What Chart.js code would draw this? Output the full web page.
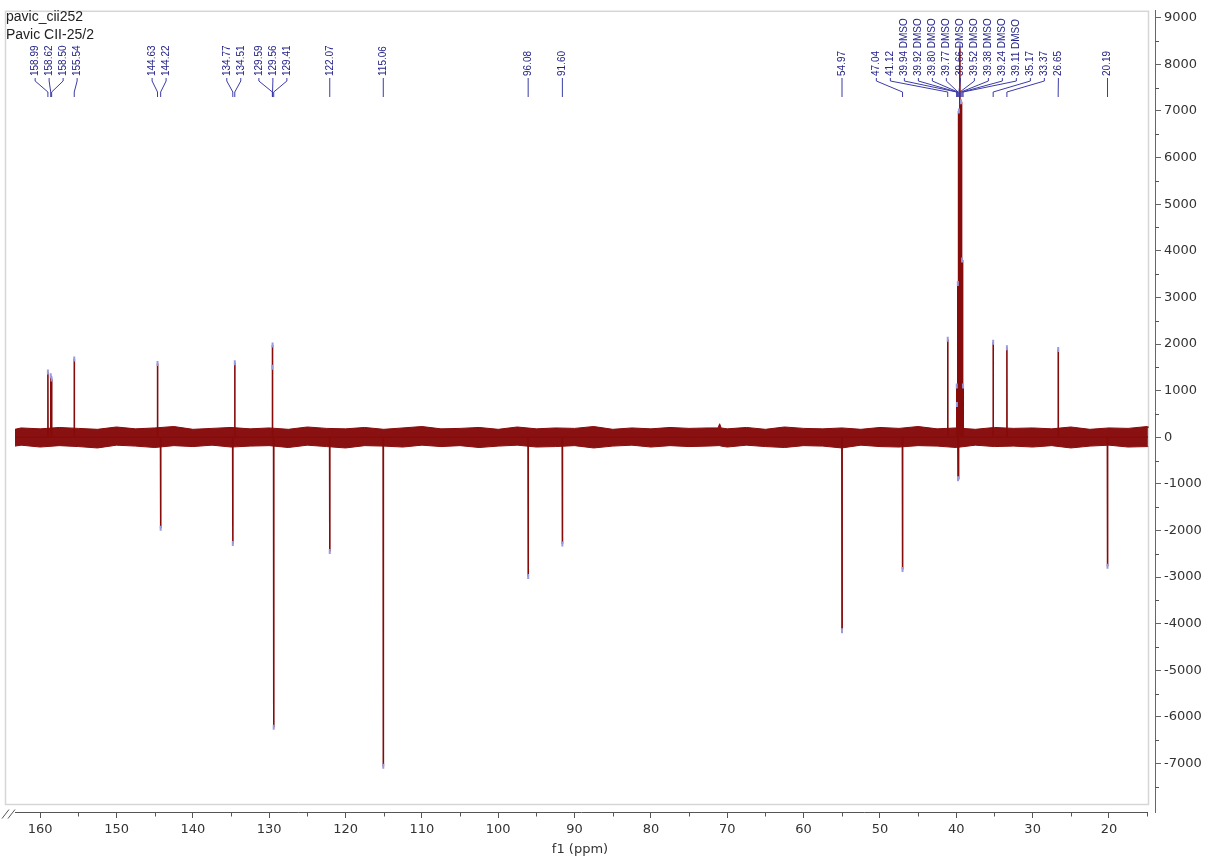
<!DOCTYPE html>
<html>
<head>
<meta charset="utf-8">
<script src="https://cdn.jsdelivr.net/npm/chart.js@4.4.1/dist/chart.umd.min.js"></script>
<style>
  html, body { margin: 0; padding: 0; background: #fff; }
  #wrap { width: 1208px; height: 859px; position: relative; }
</style>
</head>
<body>
<div id="wrap"><canvas id="spec"></canvas></div>
<script>
// spectrum header
const headerLines = ['pavic_cii252', 'Pavic CII-25/2'];

// picked peaks (ppm) and their intensities
const peakPpm = [158.99, 158.62, 158.50, 155.54, 144.63, 144.22, 134.77, 134.51, 129.59, 129.56, 129.41,
  122.07, 115.06, 96.08, 91.60, 54.97, 47.04, 41.12,
  39.94, 39.92, 39.80, 39.77, 39.66, 39.52, 39.38, 39.24, 39.11,
  35.17, 33.37, 26.65, 20.19];
const peakHeight = [1400, 1320, 1250, 1680, 1580, -1950, -2280, 1600, 1500, 1980, -6220,
  -2450, -7060, -2990, -2290, -4150, -2840, 2100,
  1100, 700, 3300, -890, 7000, 8400, 7200, 3800, 1100,
  2040, 1920, 1880, -2770];
const dmsoPpm = [39.94, 39.92, 39.80, 39.77, 39.66, 39.52, 39.38, 39.24, 39.11];

// baseline noise envelope (upper / lower edge of the noise band)
const noisePpm = [163.3, 162.5, 160, 157.5, 155, 152.5, 150, 147.5, 145, 142.5, 140, 137.5, 135, 132.5, 130,
  127.5, 125, 122.5, 120, 117.5, 115, 112.5, 110, 107.5, 105, 102.5, 100, 97.5, 95, 92.5, 90, 87.5, 85,
  82.5, 80, 77.5, 75, 72.5, 71.2, 71, 70.8, 70, 67.5, 65, 62.5, 60, 57.5, 55, 52.5, 50, 47.5, 45, 42.5,
  40, 37.5, 35, 32.5, 30, 27.5, 25, 22.5, 20, 17.5, 15, 14.9];
const noiseHigh = [170, 200, 180, 210, 190, 170, 220, 180, 200, 230,
  170, 190, 210, 180, 200, 170, 220, 190, 180, 210,
  170, 200, 230, 180, 190, 210, 170, 220, 180, 200,
  190, 230, 170, 200, 180, 210, 190, 200, 200, 290,
  200, 180, 210, 170, 220, 190, 180, 200, 170, 210,
  190, 230, 180, 200, 170, 210, 190, 200, 180, 220,
  170, 200, 190, 230, 200];
const noiseLow = [-190, -170, -210, -180, -200, -230, -170, -190, -220, -180,
  -200, -170, -210, -190, -180, -220, -170, -200, -230, -180,
  -190, -210, -170, -200, -180, -220, -190, -170, -210, -200,
  -180, -230, -190, -170, -210, -180, -200, -190, -180, -180,
  -190, -210, -170, -200, -220, -180, -190, -230, -170, -200,
  -210, -180, -190, -220, -170, -200, -190, -210, -180, -230,
  -190, -170, -210, -200, -190];

// axes
const xMax = 164.61;
const xMin = 13.97;
const yMax = 9149;
const yMin = -8040;
const xTicks = [160, 150, 140, 130, 120, 110, 100, 90, 80, 70, 60, 50, 40, 30, 20];
const xMinorTicks = [155, 145, 135, 125, 115, 105, 95, 85, 75, 65, 55, 45, 35, 25, 15];
const yTicks = [9000, 8000, 7000, 6000, 5000, 4000, 3000, 2000, 1000, 0, -1000, -2000, -3000, -4000, -5000, -6000, -7000];
const yMinorTicks = [8500, 7500, 6500, 5500, 4500, 3500, 2500, 1500, 500, -500, -1500, -2500, -3500, -4500, -5500, -6500, -7500];
const specStart = 163.3;
const specEnd = 14.9;

const axisFont = { family: '"DejaVu Sans", sans-serif', size: 13 };
const axisColor = '#333';
const lineRed = '#860b0b';
const labelBlue = '#23238a';

function buildSpectrum() {
  const pts = [{ x: specStart, y: 0 }];
  peakPpm.forEach((p, i) => {
    pts.push({ x: p + 0.02, y: 0 }, { x: p, y: peakHeight[i] }, { x: p - 0.02, y: 0 });
  });
  pts.push({ x: specEnd, y: 0 });
  return pts;
}

// place labels without overlap, centred on the peaks they belong to
function spreadLabels(xs, gap) {
  let groups = xs.map((x) => ({ n: 1, sum: x, left: x }));
  let merged = true;
  while (merged) {
    merged = false;
    groups.forEach((g) => { g.left = g.sum / g.n - (g.n - 1) * gap / 2; });
    for (let i = 0; i < groups.length - 1; i++) {
      const a = groups[i], b = groups[i + 1];
      if (a.left + a.n * gap > b.left) {
        a.n += b.n;
        a.sum += b.sum;
        groups.splice(i + 1, 1);
        merged = true;
        break;
      }
    }
  }
  const out = [];
  groups.forEach((g) => { for (let k = 0; k < g.n; k++) out.push(g.left + k * gap); });
  return out;
}

const decor = {
  id: 'decor',
  beforeDatasetsDraw(chart) {
    const { ctx, chartArea } = chart;
    ctx.save();
    ctx.strokeStyle = '#d6d6d6';
    ctx.lineWidth = 1.5;
    ctx.strokeRect(chartArea.left + 0.5, chartArea.top + 0.5, chartArea.right - 7 - chartArea.left, chartArea.bottom - 8 - chartArea.top);
    ctx.restore();
  },
  afterDraw(chart) {
    const { ctx, chartArea } = chart;
    const xs = chart.scales.x;
    const ys = chart.scales.y;
    const base = chartArea.bottom + 0.5;
    ctx.save();

    // x axis line with break mark
    ctx.strokeStyle = '#555';
    ctx.lineWidth = 1;
    ctx.beginPath();
    ctx.moveTo(chartArea.left + 10, base);
    ctx.lineTo(chartArea.right - 7, base);
    ctx.moveTo(chartArea.left - 3, base + 6);
    ctx.lineTo(chartArea.left + 4, base - 3);
    ctx.moveTo(chartArea.left + 3, base + 6);
    ctx.lineTo(chartArea.left + 10, base - 3);
    ctx.stroke();

    // minor ticks
    ctx.beginPath();
    xMinorTicks.forEach((v) => {
      const px = Math.round(xs.getPixelForValue(v)) + 0.5;
      ctx.moveTo(px, base);
      ctx.lineTo(px, base + 4);
    });
    yMinorTicks.forEach((v) => {
      const py = Math.round(ys.getPixelForValue(v)) + 0.5;
      ctx.moveTo(chartArea.right, py);
      ctx.lineTo(chartArea.right + 4, py);
    });
    ctx.stroke();

    // header
    ctx.fillStyle = '#222';
    ctx.font = '14px "Liberation Sans", sans-serif';
    ctx.textBaseline = 'alphabetic';
    ctx.textAlign = 'left';
    headerLines.forEach((t, i) => ctx.fillText(t, 6, 21 + i * 18));

    // peak labels
    const peakPx = peakPpm.map((p) => xs.getPixelForValue(p));
    const labPx = spreadLabels(peakPx, 14);
    ctx.strokeStyle = '#3b3ba6';
    ctx.lineWidth = 1;
    ctx.beginPath();
    peakPx.forEach((px, i) => {
      const lx = labPx[i];
      ctx.moveTo(lx, 78);
      ctx.lineTo(lx, 81);
      ctx.lineTo(px, 92);
      ctx.lineTo(px, 97);
    });
    ctx.stroke();

    ctx.fillStyle = labelBlue;
    ctx.font = '10px "Liberation Sans", sans-serif';
    ctx.textBaseline = 'middle';
    peakPpm.forEach((p, i) => {
      const txt = p.toFixed(2) + (dmsoPpm.includes(p) ? ' DMSO' : '');
      ctx.save();
      ctx.translate(labPx[i], 76);
      ctx.rotate(-Math.PI / 2);
      ctx.fillText(txt, 0, 0);
      ctx.restore();
    });
    ctx.restore();
  }
};

function buildChart() {
  const el = document.getElementById('spec');
  const spectrum = buildSpectrum();
  const tips = peakPpm.map((p, i) => ({ x: p, y: peakHeight[i] }));

  new Chart(el, {
    type: 'scatter',
    data: {
      datasets: [
        { data: tips, showLine: false, pointStyle: 'line', rotation: 90, pointRadius: 2.5,
          borderColor: '#9a9ade', borderWidth: 2 },
        { data: spectrum, showLine: true, borderColor: lineRed, borderWidth: 1.6, pointRadius: 0, tension: 0 },
        { data: noisePpm.map((p, i) => ({ x: p, y: noiseHigh[i] })), showLine: true, borderColor: lineRed,
          backgroundColor: '#8a1111', borderWidth: 1, pointRadius: 0, fill: '+1' },
        { data: noisePpm.map((p, i) => ({ x: p, y: noiseLow[i] })), showLine: true, borderColor: lineRed,
          borderWidth: 1, pointRadius: 0, fill: false }
      ]
    },
    options: {
      responsive: true,
      maintainAspectRatio: false,
      animation: false,
      layout: { padding: { left: 5, top: 6, right: 0, bottom: 0 }, autoPadding: false },
      plugins: { legend: { display: false }, tooltip: { enabled: false } },
      scales: {
        x: {
          type: 'linear',
          reverse: true,
          min: xMin,
          max: xMax,
          afterBuildTicks: (s) => { s.ticks = xTicks.map((v) => ({ value: v })); },
          afterFit: (s) => { s.height = 47; },
          ticks: { font: axisFont, color: axisColor, padding: 4, maxRotation: 0, autoSkip: false, callback: (v) => String(v) },
          grid: { drawOnChartArea: false, drawTicks: true, tickLength: 6, color: '#555' },
          border: { display: false },
          title: { display: true, text: 'f1 (ppm)', font: axisFont, color: axisColor, padding: { top: 2, bottom: 2 } }
        },
        y: {
          type: 'linear',
          position: 'right',
          min: yMin,
          max: yMax,
          afterBuildTicks: (s) => { s.ticks = yTicks.map((v) => ({ value: v })); },
          afterFit: (s) => { s.width = 53; },
          ticks: { font: axisFont, color: axisColor, padding: 3, autoSkip: false, callback: (v) => String(v) },
          grid: { drawOnChartArea: false, drawTicks: true, tickLength: 6, color: '#666' },
          border: { display: true, color: '#666' }
        }
      }
    },
    plugins: [decor]
  });
}

window.onload = buildChart;
</script>
</body>
</html>
